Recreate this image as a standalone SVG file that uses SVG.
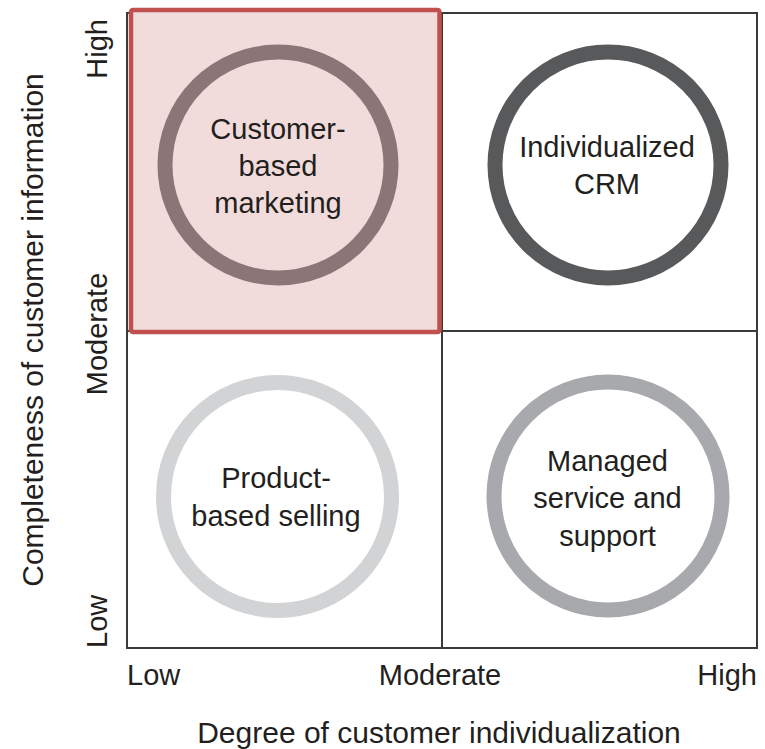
<svg xmlns="http://www.w3.org/2000/svg" width="765" height="749" viewBox="0 0 765 749">
<style>
.t{font-family:"Liberation Sans",Arial,sans-serif;font-size:29px;fill:#231f20;text-anchor:middle}
.ax{font-family:"Liberation Sans",Arial,sans-serif;font-size:29px;fill:#231f20}
.title{font-family:"Liberation Sans",Arial,sans-serif;font-size:30px;fill:#231f20;text-anchor:middle}
.ring{fill:none;stroke-width:15}
.grid{fill:none;stroke:#3a3a3a;stroke-width:2}
</style>
<rect width="765" height="749" fill="#ffffff"/>
<g id="grid">
<rect class="grid" x="127" y="13" width="630" height="635"/>
<line class="grid" x1="442" y1="13" x2="442" y2="648"/>
<line class="grid" x1="127" y1="331" x2="757" y2="331"/>
</g>
<g id="highlight">
<rect x="131" y="10" width="308.5" height="322" rx="2" fill="#f2dcdb" stroke="#c0504d" stroke-width="4.5"/>
</g>
<g id="node-customer-based-marketing">
<circle class="ring" cx="278" cy="165" r="113" stroke="#8a7676"/>
<text class="t" x="278" y="139">Customer-</text>
<text class="t" x="278" y="176">based</text>
<text class="t" x="278" y="213">marketing</text>
</g>
<g id="node-individualized-crm">
<circle class="ring" cx="608" cy="165" r="113" stroke="#58595b"/>
<text class="t" x="607" y="157">Individualized</text>
<text class="t" x="607" y="194">CRM</text>
</g>
<g id="node-product-based-selling">
<circle class="ring" cx="277.5" cy="496.5" r="114" stroke="#d1d3d4"/>
<text class="t" x="276" y="488">Product-</text>
<text class="t" x="276" y="526">based selling</text>
</g>
<g id="node-managed-service">
<circle class="ring" cx="608" cy="496" r="114" stroke="#a7a9ac"/>
<text class="t" x="607.5" y="471">Managed</text>
<text class="t" x="607.5" y="508">service and</text>
<text class="t" x="607.5" y="546">support</text>
</g>
<g id="connectors"></g>
<g id="x-axis">
<text class="ax" x="127" y="685">Low</text>
<text class="ax" x="440" y="685" text-anchor="middle">Moderate</text>
<text class="ax" x="757" y="685" text-anchor="end">High</text>
<text class="title" x="439" y="743">Degree of customer individualization</text>
</g>
<g id="y-axis">
<text class="ax" transform="translate(107,648) rotate(-90)">Low</text>
<text class="ax" transform="translate(107,334) rotate(-90)" text-anchor="middle">Moderate</text>
<text class="ax" transform="translate(107,19) rotate(-90)" text-anchor="end">High</text>
<text class="title" transform="translate(43,330) rotate(-90)">Completeness of customer information</text>
</g>
</svg>
